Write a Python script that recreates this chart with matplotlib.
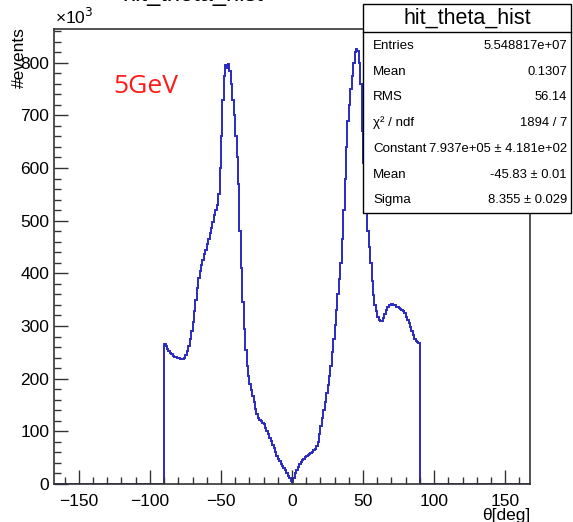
import numpy as np
import matplotlib
matplotlib.use("Agg")
import matplotlib.pyplot as plt
from matplotlib.patches import Rectangle
from matplotlib.ticker import MultipleLocator

plt.rcParams["font.family"] = ["Liberation Sans", "DejaVu Sans"]

# bin edges in degrees, 1 deg bins; filled bins only between -90 and 90
theta_lo, theta_hi = -180, 180
fill_lo = -90
# counts (x1e3) for bins [-90,-89) ... [89,90)
counts_k = [
    265, 262, 256, 252, 248, 246, 244, 242, 241, 240,
    239, 238, 237, 238, 240, 245, 252, 262, 275, 290,
    308, 328, 350, 372, 392, 405, 416, 426, 436, 445,
    455, 466, 476, 487, 498, 510, 520, 530, 550, 600,
    660, 730, 775, 795, 790, 797, 785, 760, 730, 700,
    660, 620, 570, 480, 410, 345, 295, 255, 225, 205,
    190, 178, 168, 155, 142, 132, 126, 122, 119, 116,
    113, 107, 100, 94, 88, 82, 75, 68, 61, 54,
    48, 43, 38, 34, 30, 26, 21, 16, 11, 5,
    4, 12, 20, 27, 33, 38, 42, 45, 48, 51,
    53, 55, 57, 59, 61, 64, 67, 72, 80, 95,
    110, 125, 140, 155, 172, 188, 205, 225, 250, 275,
    302, 330, 360, 390, 420, 465, 520, 580, 640, 690,
    720, 750, 775, 800, 820, 826, 822, 800, 760, 670,
    610, 560, 520, 480, 450, 420, 385, 358, 340, 328,
    318, 312, 309, 310, 315, 322, 330, 336, 339, 340,
    341, 340, 339, 337, 336, 335, 333, 331, 328, 324,
    318, 312, 305, 298, 290, 283, 276, 272, 269, 267,
]

stat_names = ["Entries", "Mean", "RMS", "χ² / ndf", "Constant", "Mean", "Sigma"]
stat_values = ["5.548817e+07", "0.1307", "56.14", "1894 / 7",
               "7.937e+05 ± 4.181e+02", "-45.83 ± 0.01", "8.355 ± 0.029"]

edges = np.arange(theta_lo, theta_hi + 1)
vals = np.zeros(len(edges) - 1)
i0 = fill_lo - theta_lo
vals[i0:i0 + len(counts_k)] = counts_k

W, H = 573, 522
fig = plt.figure(figsize=(W / 100, H / 100), dpi=100)
ax = fig.add_axes([54 / W, 1 - 484 / H, (530 - 54) / W, (484 - 29) / H])

ax.stairs(vals, edges, color="#2a2ac0", lw=1.4)
ax.set_xlim(-167.5, 167.5)
ax.set_ylim(0, 864)

ax.xaxis.set_major_locator(MultipleLocator(50))
ax.xaxis.set_minor_locator(MultipleLocator(10))
ax.yaxis.set_major_locator(MultipleLocator(100))
ax.yaxis.set_minor_locator(MultipleLocator(20))
ax.tick_params(which="both", direction="in", top=False, right=False,
               labelsize=12.5, width=1, color="#333333")
ax.tick_params(which="major", length=10)
ax.tick_params(which="minor", length=5)
ax.tick_params(axis="x", pad=7)
for s in ax.spines.values():
    s.set_linewidth(1.2)
    s.set_color("#333333")

fig.text(55 / W, 1 - 24 / H, "×10$^{3}$", fontsize=12.5, va="baseline")
fig.text(19 / W, 1 - 27 / H, "#events", rotation=90, fontsize=12.5,
         ha="center", va="top")
fig.text(530 / W, 1 - 520 / H, "θ[deg]", fontsize=12.5, ha="right",
         va="baseline")
fig.text(113 / W, 1 - 93 / H, "5GeV", color="#ff1a1a", fontsize=19,
         family=["Open Sans", "DejaVu Sans"], va="baseline")
# title, mostly cut off by the top edge
fig.text(122 / W, 1 - 1 / H, "hit_theta_hist", fontsize=17, va="baseline")

# stats box
bx0, bx1, by0, by1 = 363, 571, 4, 213
fig.add_artist(Rectangle((bx0 / W, 1 - by1 / H), (bx1 - bx0) / W,
                         (by1 - by0) / H, transform=fig.transFigure,
                         facecolor="white", edgecolor="black", lw=1,
                         zorder=5))
fig.add_artist(plt.Line2D([bx0 / W, bx1 / W], [1 - 32 / H, 1 - 32 / H],
                          transform=fig.transFigure, color="black", lw=1,
                          zorder=6))
fig.text((bx0 + bx1) / 2 / W, 1 - 18 / H, "hit_theta_hist", fontsize=15.5,
         ha="center", va="center", zorder=7)
row_y = [46, 72, 97, 123, 149, 175, 200]
for name, val, yy in zip(stat_names, stat_values, row_y):
    fig.text(373 / W, 1 - yy / H, name, fontsize=9.6, va="center", zorder=7)
    fig.text(567 / W, 1 - yy / H, val, fontsize=9.4, va="center", ha="right",
             zorder=7)

fig.savefig("out.png", dpi=100)
